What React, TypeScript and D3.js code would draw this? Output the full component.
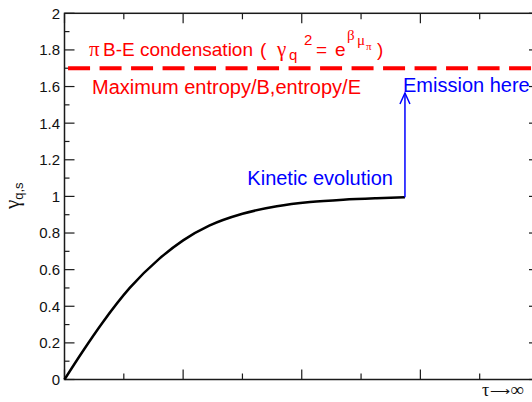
import React from 'react';
import * as d3 from 'd3';

// values
const tau = [0, 0.15, 0.32, 0.55, 0.8, 1.0, 1.22, 1.5, 1.79, 2.07, 2.35, 2.63, 2.87];
const gammaQS = [0, 0.15, 0.31, 0.5, 0.66, 0.76, 0.84, 0.905, 0.946, 0.969, 0.982, 0.99, 0.995];

const yMajorTicks = [0, 0.2, 0.4, 0.6, 0.8, 1, 1.2, 1.4, 1.6, 1.8, 2];
const yTickLabels = ['0', '0.2', '0.4', '0.6', '0.8', '1', '1.2', '1.4', '1.6', '1.8', '2'];
const yMinorTicks = [0.1, 0.3, 0.5, 0.7, 0.9, 1.1, 1.3, 1.5, 1.7, 1.9];
const xMajorTicks = [0, 1, 2, 3, 4];
const xMinorTicks = [0.5, 1.5, 2.5, 3.5];

const condensationLevel = 1.7;
const emissionTau = 2.87;
const emissionLevel = 1.565;

const W = 532;
const H = 402;
const SANS = 'Liberation Sans, Arial, Helvetica, sans-serif';
const SERIF = 'Liberation Serif, Times New Roman, serif';
const RED = '#ff0000';
const BLUE = '#0000ff';

export default function App() {
  const x = d3.scaleLinear().domain([0, 4]).range([64.5, 539]);
  const y = d3.scaleLinear().domain([0, 2]).range([379.5, 13.3]);
  const pts: [number, number][] = tau.map((t, i) => [t, gammaQS[i]]);
  const curve = d3
    .line<[number, number]>()
    .x((d) => x(d[0]))
    .y((d) => y(d[1]))
    .curve(d3.curveMonotoneX)(pts);

  const x0 = x(0);
  const x1 = x(4);
  const y0 = y(0);
  const y1 = y(2);
  const axisColor = '#1a1a1a';

  const ex = x(emissionTau);
  const eyBottom = y(gammaQS[gammaQS.length - 1]);
  const eyTop = y(emissionLevel);

  return (
    <svg
      width={W}
      height={H}
      style={{ position: 'absolute', left: 0, top: 0, background: '#fff' }}
    >
      <rect x={0} y={0} width={W} height={H} fill="#fff" />
      {/* frame */}
      <rect x={x0} y={y1} width={x1 - x0} height={y0 - y1} fill="none" stroke={axisColor} strokeWidth={1.5} />
      {/* left & right ticks */}
      {yMajorTicks.map((v) => (
        <g key={'ym' + v}>
          <line x1={x0} x2={x0 + 10} y1={y(v)} y2={y(v)} stroke={axisColor} strokeWidth={1.2} />
          <line x1={x1 - 10} x2={x1} y1={y(v)} y2={y(v)} stroke={axisColor} strokeWidth={1.2} />
        </g>
      ))}
      {yMinorTicks.map((v) => (
        <g key={'yn' + v}>
          <line x1={x0} x2={x0 + 5} y1={y(v)} y2={y(v)} stroke={axisColor} strokeWidth={1.2} />
          <line x1={x1 - 5} x2={x1} y1={y(v)} y2={y(v)} stroke={axisColor} strokeWidth={1.2} />
        </g>
      ))}
      {/* bottom & top ticks */}
      {xMajorTicks.map((v) => (
        <g key={'xm' + v}>
          <line x1={x(v)} x2={x(v)} y1={y0} y2={y0 - 10} stroke={axisColor} strokeWidth={1.2} />
          <line x1={x(v)} x2={x(v)} y1={y1} y2={y1 + 10} stroke={axisColor} strokeWidth={1.2} />
        </g>
      ))}
      {xMinorTicks.map((v) => (
        <g key={'xn' + v}>
          <line x1={x(v)} x2={x(v)} y1={y0} y2={y0 - 6} stroke={axisColor} strokeWidth={1.2} />
          <line x1={x(v)} x2={x(v)} y1={y1} y2={y1 + 6} stroke={axisColor} strokeWidth={1.2} />
        </g>
      ))}
      {/* y tick labels */}
      {yMajorTicks.map((v, i) => (
        <text
          key={'yl' + v}
          x={60}
          y={y(v)}
          dy="0.36em"
          textAnchor="end"
          fontFamily={SANS}
          fontSize={15}
          fill="#111"
        >
          {yTickLabels[i]}
        </text>
      ))}
      {/* y axis title */}
      <text
        transform="translate(19,209) rotate(-90)"
        fontFamily={SERIF}
        fontSize={21}
        fill="#111"
      >
        γ
        <tspan fontFamily={SANS} fontSize={13} dy={4}>q,s</tspan>
      </text>
      {/* x axis title */}
      <text x={482} y={396} fontFamily={SERIF} fontSize={18} fill="#111">
        τ
        <tspan fontFamily={SANS} fontSize={14} dx={1}>⟶</tspan>
        <tspan fontFamily={SERIF} fontSize={19}>∞</tspan>
      </text>

      {/* red dashed condensation line */}
      <line
        x1={x(0.03)}
        x2={x1}
        y1={y(condensationLevel)}
        y2={y(condensationLevel)}
        stroke={RED}
        strokeWidth={4}
        strokeDasharray="22,9.5"
      />
      {/* red labels */}
      <g fill={RED}>
        <text x={89} y={56} fontFamily={SERIF} fontSize={21}>π</text>
        <text x={103} y={56} fontFamily={SANS} fontSize={19}>B-E condensation</text>
        <text x={260} y={56} fontFamily={SANS} fontSize={19}>(</text>
        <text x={277} y={56} fontFamily={SERIF} fontSize={21}>γ</text>
        <text x={289} y={60} fontFamily={SANS} fontSize={15}>q</text>
        <text x={304} y={45} fontFamily={SANS} fontSize={15}>2</text>
        <text x={316} y={56} fontFamily={SANS} fontSize={19}>=</text>
        <text x={335} y={56} fontFamily={SANS} fontSize={19}>e</text>
        <text x={347} y={40} fontFamily={SERIF} fontSize={15}>β</text>
        <text x={357} y={45} fontFamily={SERIF} fontSize={15}>μ</text>
        <text x={366} y={50} fontFamily={SERIF} fontSize={11}>π</text>
        <text x={377} y={56} fontFamily={SANS} fontSize={19}>)</text>
        <text x={92} y={94} fontFamily={SANS} fontSize={20}>Maximum entropy/B,entropy/E</text>
      </g>

      {/* curve */}
      <path d={curve || ''} fill="none" stroke="#000" strokeWidth={2.5} />

      {/* blue arrow and labels */}
      <line x1={ex} x2={ex} y1={eyBottom} y2={eyTop} stroke={BLUE} strokeWidth={1.5} />
      <polyline
        points={`${ex - 5},${eyTop + 11} ${ex},${eyTop} ${ex + 5},${eyTop + 11}`}
        fill="none"
        stroke={BLUE}
        strokeWidth={1.5}
      />
      <text x={393} y={185} textAnchor="end" fontFamily={SANS} fontSize={20} fill={BLUE}>
        Kinetic evolution
      </text>
      <text x={403} y={92} fontFamily={SANS} fontSize={20} fill={BLUE}>
        Emission here
      </text>
    </svg>
  );
}
